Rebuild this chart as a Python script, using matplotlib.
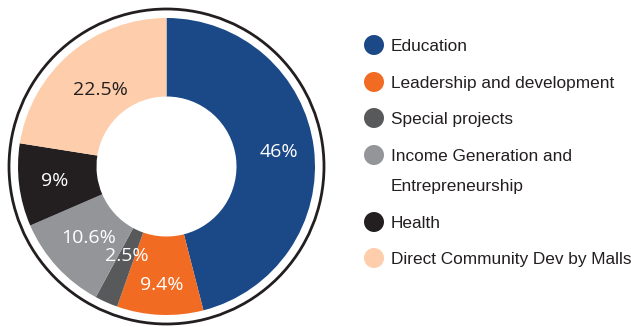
import matplotlib
matplotlib.use("Agg")
import matplotlib.pyplot as plt
from matplotlib.patches import Circle
import numpy as np

# Share of spending by programme area (percent)
categories = [
    "Education",
    "Leadership and development",
    "Special projects",
    "Income Generation and\nEntrepreneurship",
    "Health",
    "Direct Community Dev by Malls",
]
shares = [46, 9.4, 2.5, 10.6, 9, 22.5]
pct_labels = ["46%", "9.4%", "2.5%", "10.6%", "9%", "22.5%"]

colors = ["#1b4887", "#f26b22", "#58595b", "#939598", "#231f20", "#fdcdac"]
label_colors = ["white", "white", "white", "white", "white", "#231f20"]
label_dist = [0.76, 0.80, 0.66, 0.71, 0.76, 0.68]

W, H = 631, 327
fig = plt.figure(figsize=(W / 100, H / 100), dpi=100)
ax = fig.add_axes([0, 0, 1, 1])

cx, cy = 166.5, H - 166.5
R = 148.5
hole = 70

wedges, _ = ax.pie(
    shares,
    colors=colors,
    startangle=90,
    counterclock=False,
    radius=R,
    center=(cx, cy),
    wedgeprops=dict(width=R - hole, linewidth=0),
)

for w, lab, col, d in zip(wedges, pct_labels, label_colors, label_dist):
    mid = np.deg2rad((w.theta1 + w.theta2) / 2)
    ax.text(cx + d * R * np.cos(mid), cy + d * R * np.sin(mid), lab,
            ha="center", va="center", color=col, fontsize=14,
            family="Open Sans")

# outer ring around the donut
ax.add_patch(Circle((cx, cy), 157.5, fill=False, edgecolor="#231f20",
                    linewidth=2.0))

# legend drawn as dots with text; wrapped names continue on a second line
rows_y = [45, 82, 118, 155, 222, 258]
line_gap = 30
for y, cat, col in zip(rows_y, categories, colors):
    ax.add_patch(Circle((374, H - y), 10, facecolor=col, edgecolor="none"))
    for i, part in enumerate(cat.split("\n")):
        ax.text(391, H - y - i * line_gap, part, ha="left",
                va="center_baseline", fontsize=12.4, color="#231f20",
                family="Liberation Sans")

ax.set_xlim(0, W)
ax.set_ylim(0, H)
ax.set_aspect("equal")
ax.axis("off")
fig.savefig("out.png", dpi=100)
